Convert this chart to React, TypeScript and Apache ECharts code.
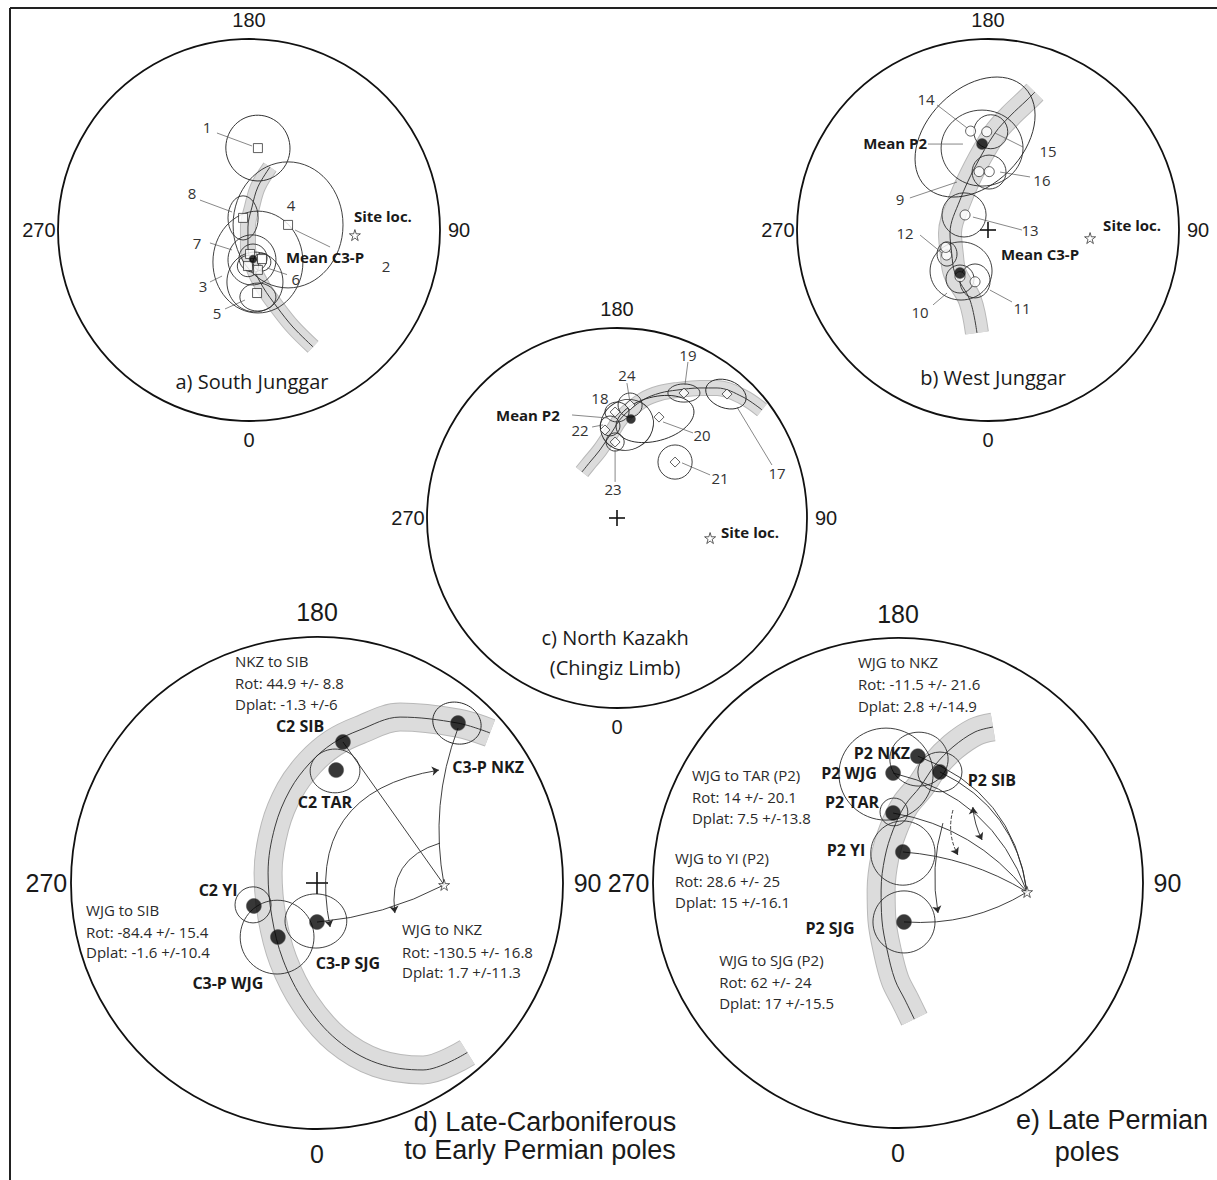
import React, { useEffect, useRef } from "react";
import * as echarts from "echarts";

// All positions are in stereonet-plane units (degrees from the centre; +x toward 90, +y toward 180).
type P = [number, number];
type T = [number, number, string];

const DIRECTION_TICKS = [0, 90, 180, 270];

// ---------------- a) South Junggar ----------------
const aSites: P[] = [[4.2, 38.6], [-2.8, 5.7], [18.4, 2.4], [0.5, -11.3], [6.1, -13.7], [-0.5, -17.0], [4.2, -18.8], [3.8, -29.7]];
const aEllipses = [
  [4.2, 38.6, 15.1, 15.5, 10], [-2.8, 5.7, 7.1, 10.4, 0], [18.4, 2.4, 25.9, 29.7, 0], [4.2, -15.1, 21.2, 24.0, 0],
  [2.8, -24.5, 13.2, 14.1, 0], [1.4, -14.1, 11.3, 11.8, 0], [1.9, -13.2, 6.6, 6.6, 0], [6.1, -15.1, 4.2, 4.2, 0],
  [4.2, -31.6, 8.5, 6.6, 0], [-0.5, -17.0, 5.0, 5.0, 0],
];
const aMeans: P[] = [[1.9, -13.7]];
const aStar: P[] = [[49.9, -2.4]];
const aBand: P[] = [[9.9, 29.7], [4.2, 20.3], [1.4, 10.8], [-0.5, 1.4], [-0.5, -8.0], [1.9, -17.4], [6.6, -26.9], [13.2, -36.3], [20.7, -45.7], [30.2, -55.1]];
const aNumbers: T[] = [[-19.8, 48.5, "1"], [-26.9, 17.4, "8"], [19.8, 11.8, "4"], [-24.5, -6.1, "7"], [22.1, -23.0, "6"], [-21.7, -26.4, "3"], [-15.1, -39.1, "5"], [64.6, -17.0, "2"]];
const aLeaders: P[][] = [
  [[-15.1, 45.7], [1.4, 39.6]], [[-23.1, 14.1], [-8.0, 8.5]], [[21.7, 0], [38.2, -8.0]], [[-18.4, -6.1], [-8.0, -9.4]],
  [[17.9, -21.0], [8.5, -17.9]], [[-18.4, -24.5], [-12.7, -21.7]], [[-11.3, -37.2], [-1.9, -33.0]],
];
const aBold: T[] = [[35.8, -12.7, "Mean C3-P"], [63.1, 6.6, "Site loc."]];
const aTitle: T[] = [[1.4, -71.6, "a) South Junggar"]];

// ---------------- b) West Junggar ----------------
const bSites: P[] = [[-8.2, 46.6], [-0.6, 46.3], [-4.2, 27.5], [0.6, 27.5], [-10.8, 7.1], [-19.5, -11.8], [-19.9, -8.2], [-13.2, -22.0], [-6.1, -24.4]];
const bEllipses = [
  [-6.1, 43.8, 33.0, 22.6, 45], [-2.8, 38.6, 19.3, 17.9, 0], [1.3, 46.3, 8.0, 8.0, 0], [0.5, 27.3, 8.0, 8.0, 0],
  [-11.3, 7.1, 10.4, 10.4, 0], [-19.3, -11.3, 4.7, 5.7, 0], [-12.7, -19.3, 14.6, 13.7, 0], [-6.1, -24.0, 7.1, 8.0, 0],
  [-13.2, -23.1, 6.6, 6.6, 0],
];
const bMeans: P[] = [[-2.8, 40.5], [-13.2, -20.3]];
const bStar: P[] = [[48.1, -3.8]];
const bBand: P[] = [[22.1, 65.0], [18.4, 61.3], [10.4, 53.7], [3.3, 45.7], [-6.1, 29.7], [-13.2, 14.1], [-17.9, -1.4], [-17.1, -11.0], [-15.6, -20.3], [-8.5, -33.0], [-5.2, -48.5]];
const bNumbers: T[] = [[-29.2, 61.7, "14"], [28.3, 37.2, "15"], [25.4, 23.6, "16"], [-41.5, 14.6, "9"], [19.8, 0, "13"], [-39.1, -1.4, "12"], [-32.0, -38.6, "10"], [16.0, -36.8, "11"]];
const bLeaders: P[][] = [
  [[-24.0, 58.9], [-9.9, 48.1]], [[16.5, 39.1], [3.3, 45.7]], [[19.8, 25.0], [5.7, 27.3]], [[-36.8, 15.1], [-14.6, 22.6]],
  [[16.0, 0], [-7.1, 6.1]], [[-32.0, -2.4], [-21.7, -10.8]], [[-25.9, -35.3], [-19.3, -29.7]], [[11.3, -33.9], [0.9, -28.3]],
  [[-28.3, 40.5], [-11.8, 40.5]],
];
const bBold: T[] = [[-43.8, 41.0, "Mean P2"], [24.5, -11.3, "Mean C3-P"], [67.9, 2.4, "Site loc."]];
const bTitle: T[] = [[2.4, -69.3, "b) West Junggar"]];

// ---------------- c) North Kazakh ----------------
const cSites: P[] = [[-0.9, 50.2], [19.9, 47.8], [-0.9, 36.0], [31.7, 59.2], [52.1, 58.7], [27.5, 26.5], [-5.7, 41.7], [6.2, 53.5]];
const cEllipses = [
  [18.0, 46.9, 18.9, 10.4, 15], [4.7, 44.1, 12.8, 11.8, 30], [0, 50.2, 5.7, 4.7, 0], [-0.9, 36.0, 4.3, 4.3, 0],
  [31.7, 59.2, 7.6, 4.3, 0], [51.6, 58.7, 9.9, 6.6, -20], [27.5, 26.5, 8.1, 8.1, 0], [6.2, 53.5, 5.7, 5.7, 0],
  [-3.3, 43.6, 4.7, 4.7, 0],
];
const cMeans: P[] = [[6.6, 46.9]];
const cStar: P[] = [[44.1, -9.5]];
const cBand: P[] = [[-16.6, 21.8], [-12.8, 26.5], [-8.1, 32.2], [-2.4, 40.7], [2.4, 47.8], [12.3, 55.9], [20.4, 59.2], [28.4, 60.6], [39.3, 61.6], [47.4, 61.6], [59.7, 57.3], [68.7, 51.2]];
const cNumbers: T[] = [[33.6, 77.2, "19"], [4.7, 67.7, "24"], [-8.1, 56.8, "18"], [-17.5, 41.7, "22"], [40.3, 39.3, "20"], [-1.9, 13.7, "23"], [48.8, 18.9, "21"], [75.8, 21.3, "17"]];
const cLeaders: P[][] = [
  [[33.6, 73.9], [32.2, 63.0]], [[4.7, 63.9], [6.2, 54.5]], [[-11.8, 43.1], [-6.6, 44.1]], [[36.0, 40.3], [21.8, 45.5]],
  [[-0.9, 17.1], [-0.9, 32.2]], [[44.1, 20.4], [30.8, 26.1]], [[73.4, 25.1], [56.8, 52.6]], [[-21.3, 48.8], [-4.7, 47.4]],
];
const cBold: T[] = [[-42.2, 48.8, "Mean P2"], [63.0, -6.6, "Site loc."]];
const cTitle: T[] = [[-0.9, -56.8, "c) North Kazakh"], [-0.9, -70.6, "(Chingiz Limb)"]];

// ---------------- d) Late-Carboniferous to Early Permian poles ----------------
const dPoles: P[] = [[51.6, 58.5], [9.5, 51.6], [7.0, 41.3], [0, -14.3], [-14.3, -19.8], [-23.1, -8.4]];
const dEllipses = [[51.2, 58.5, 9.0, 7.5, -20], [6.6, 41.0, 9.1, 8.0, 0], [-0.4, -13.9, 11.3, 9.9, 0], [-14.6, -19.8, 13.5, 13.5, 0], [-23.4, -8.0, 6.6, 6.6, 0]];
const dStar: P[] = [[46.5, -0.7]];
const dBand: P[] = [[63.3, 54.9], [51.6, 58.5], [30.4, 60.7], [15.7, 56.0], [5.9, 51.2], [-2.6, 43.9], [-9.9, 34.0], [-15.4, 20.5], [-17.9, 3.7], [-16.5, -12.4], [-12.4, -28.2], [-4.4, -43.9], [7.3, -57.4], [22.0, -65.9], [38.8, -68.4], [55.0, -62.0]];
const dBold: T[] = [[-6.2, 57.4, "C2 SIB"], [2.9, 29.6, "C2 TAR"], [62.6, 42.4, "C3-P NKZ"], [-36.2, -2.6, "C2 YI"], [11.3, -29.3, "C3-P SJG"], [-32.6, -36.6, "C3-P WJG"]];
const dBlocks: T[] = [
  [-30.0, 81.2, "NKZ to SIB"], [-30.0, 73.2, "Rot: 44.9 +/- 8.8"], [-30.0, 65.5, "Dplat: -1.3 +/-6"],
  [-84.5, -9.9, "WJG to SIB"], [-84.5, -17.9, "Rot: -84.4 +/- 15.4"], [-84.5, -25.2, "Dplat: -1.6 +/-10.4"],
  [31.1, -16.8, "WJG to NKZ"], [31.1, -25.2, "Rot: -130.5 +/- 16.8"], [31.1, -32.6, "Dplat: 1.7 +/-11.3"],
];
// great-circle paths from poles to the site (start, end)
const dLines: P[][] = [[[9.5, 51.6], [46.5, -0.7]], [[51.6, 56.7], [46.5, -0.7]], [[0, -14.3], [46.5, -0.7]]];
const dArcsBoth: P[][] = [[[44.6, 41.3], [4.8, -16.1]]];
const dArcsEnd: P[][] = [[[45.0, 14.6], [28.5, -11.0]]];
const dTitle: T[] = [[83.4, -87.5, "d) Late-Carboniferous"], [81.6, -97.7, "to Early Permian poles"]];

// ---------------- e) Late Permian poles ----------------
const ePoles: P[] = [[7.3, 46.6], [-1.8, 40.4], [15.4, 40.8], [-1.8, 25.7], [1.8, 11.4], [2.2, -14.3]];
const eEllipses = [[-4.4, 40.0, 17.3, 16.9, 0], [7.7, 45.5, 10.7, 9.9, 0], [15.4, 40.8, 8.1, 7.3, 0], [-1.5, 26.1, 5.1, 5.1, 0], [1.8, 11.0, 11.8, 11.8, 0], [2.2, -14.3, 11.4, 11.4, 0]];
const eStar: P[] = [[47.4, -3.3]];
const eBand: P[] = [[34.9, 57.3], [28.3, 55.5], [20.2, 50.0], [13.6, 43.3], [8.1, 35.3], [2.6, 28.6], [-1.8, 19.5], [-4.8, 9.5], [-6.2, -2.6], [-5.9, -13.6], [-4.0, -24.6], [-1.1, -35.6], [2.6, -43.0], [6.0, -50.0]];
const eBold: T[] = [[-5.9, 47.7, "P2 NKZ"], [-18.0, 40.4, "P2 WJG"], [34.5, 37.8, "P2 SIB"], [-16.9, 29.8, "P2 TAR"], [-19.1, 12.1, "P2 YI"], [-25.0, -16.5, "P2 SJG"]];
const eBlocks: T[] = [
  [-14.7, 81.2, "WJG to NKZ"], [-14.7, 73.1, "Rot: -11.5 +/- 21.6"], [-14.7, 65.0, "Dplat: 2.8 +/-14.9"],
  [-75.7, 39.7, "WJG to TAR (P2)"], [-75.7, 31.6, "Rot: 14 +/- 20.1"], [-75.7, 23.9, "Dplat: 7.5 +/-13.8"],
  [-81.9, 9.2, "WJG to YI (P2)"], [-81.9, 0.7, "Rot: 28.6 +/- 25"], [-81.9, -7.0, "Dplat: 15 +/-16.1"],
  [-65.7, -28.3, "WJG to SJG (P2)"], [-65.7, -36.4, "Rot: 62 +/- 24"], [-65.7, -44.1, "Dplat: 17 +/-15.5"],
];
const eLines: P[][] = [
  [[7.3, 46.6], [47.4, -3.3]], [[15.4, 40.8], [47.4, -3.3]], [[-1.8, 40.4], [47.4, -3.3]],
  [[-1.8, 25.7], [47.4, -3.3]], [[1.8, 11.4], [47.4, -3.3]], [[2.2, -14.3], [47.4, -3.3]],
];
const eArcsBoth: P[][] = [[[27.5, 27.9], [30.9, 15.8]]];
const eArcsDashed: P[][] = [[[20.2, 26.8], [22.0, 10.3]]];
const eArcsEnd: P[][] = [[[16.5, 22.0], [14.7, -11.0]]];
const eTitle: T[] = [[78.6, -87.0, "e) Late Permian"], [69.4, -98.8, "poles"]];

// ---------------- layout / styles ----------------
const SANS = '"Open Sans", "Noto Sans", sans-serif';
const ARIAL = '"Liberation Sans", Arial, sans-serif';
const STAR = "path://M50,0 L61,35 L98,35 L68,57 L79,91 L50,70 L21,91 L32,57 L2,35 L39,35 Z";
const INK = "#1a1a1a";
const LINE = "#2a2a2a";

interface Panel {
  left: number; top: number; size: number;
  band: P[]; bandWidth: number;
  ellipses: number[][];
  sites?: P[]; siteSymbol?: string; siteSize?: number;
  means: P[]; meanSize: number;
  star: P[];
  cross: number;
  leaders?: P[][];
  lines?: P[][]; lineCurves?: number[];
  arcsEnd?: P[][]; arcsEndCurves?: number[];
  arcsBoth?: P[][]; arcsBothCurves?: number[];
  arcsDashed?: P[][]; arcsDashedCurves?: number[];
  numbers?: T[];
  bold: T[]; boldSize: number;
  blocks?: T[];
  titles: T[]; titleFamily: string; titleSize: number;
  tickSize: number;
}

const PANELS: Panel[] = [
  { left: 58, top: 39, size: 382, band: aBand, bandWidth: 14, ellipses: aEllipses, sites: aSites, siteSymbol: "rect", siteSize: 9,
    means: aMeans, meanSize: 8, star: aStar, cross: 0, leaders: aLeaders, numbers: aNumbers, bold: aBold, boldSize: 15,
    titles: aTitle, titleFamily: SANS, titleSize: 20, tickSize: 20 },
  { left: 797, top: 39, size: 382, band: bBand, bandWidth: 22, ellipses: bEllipses, sites: bSites, siteSymbol: "circle", siteSize: 10,
    means: bMeans, meanSize: 11, star: bStar, cross: 8, leaders: bLeaders, numbers: bNumbers, bold: bBold, boldSize: 15,
    titles: bTitle, titleFamily: SANS, titleSize: 20, tickSize: 20 },
  { left: 427, top: 328, size: 380, band: cBand, bandWidth: 14, ellipses: cEllipses, sites: cSites, siteSymbol: "diamond", siteSize: 10,
    means: cMeans, meanSize: 9, star: cStar, cross: 8, leaders: cLeaders, numbers: cNumbers, bold: cBold, boldSize: 15,
    titles: cTitle, titleFamily: SANS, titleSize: 20, tickSize: 20 },
  { left: 71, top: 637, size: 492, band: dBand, bandWidth: 27, ellipses: dEllipses, means: dPoles, meanSize: 15, star: dStar,
    cross: 11, lines: dLines, lineCurves: [0, -0.14, -0.1],
    arcsEnd: dArcsEnd, arcsEndCurves: [-0.43], arcsBoth: dArcsBoth, arcsBothCurves: [-0.52],
    bold: dBold, boldSize: 16, blocks: dBlocks, titles: dTitle, titleFamily: ARIAL, titleSize: 27, tickSize: 25 },
  { left: 653, top: 638, size: 490, band: eBand, bandWidth: 27, ellipses: eEllipses, means: ePoles, meanSize: 15, star: eStar,
    cross: 0, lines: eLines, lineCurves: [0.3, 0.27, 0.27, 0.19, 0.12, -0.16],
    arcsEnd: eArcsEnd, arcsEndCurves: [-0.12], arcsBoth: eArcsBoth, arcsBothCurves: [-0.1],
    arcsDashed: eArcsDashed, arcsDashedCurves: [-0.2],
    bold: eBold, boldSize: 16, blocks: eBlocks, titles: eTitle, titleFamily: ARIAL, titleSize: 27, tickSize: 25 },
];

function textSeries(ax: any, items: T[], style: any, z = 8) {
  return {
    type: "custom", ...ax, data: items.map((d) => [d[0], d[1]]), encode: { x: 0, y: 1 }, silent: true, z,
    renderItem: (params: any, api: any) => {
      const c = api.coord([api.value(0), api.value(1)]);
      return { type: "text", x: c[0], y: c[1], style: { text: items[params.dataIndex][2], fill: INK, ...style } };
    },
  };
}

function polySeries(ax: any, arr: P[][], color: string, width: number) {
  return {
    type: "lines", coordinateSystem: "cartesian2d", ...ax, polyline: true, silent: true, z: 4,
    data: arr.map((c) => ({ coords: c })),
    lineStyle: { color, width, opacity: 1 },
  };
}

function curveSeries(ax: any, arr: P[][], curves: number[] | undefined, symbol: string[], dashed = false) {
  return {
    type: "lines", coordinateSystem: "cartesian2d", ...ax, silent: true, z: 4,
    symbol, symbolSize: 7,
    data: arr.map((c, k) => ({ coords: c, lineStyle: { curveness: curves ? curves[k] : 0 } })),
    lineStyle: { color: LINE, width: 0.9, opacity: 1, type: dashed ? "dashed" : "solid" },
  };
}

function buildSeries(p: Panel, i: number) {
  const ax = { xAxisIndex: i, yAxisIndex: i };
  const s: any[] = [];
  // confidence band (swath) along the path
  const bandBase = { type: "line", ...ax, data: p.band, smooth: 0.35, symbol: "none", showSymbol: false, silent: true, clip: false };
  s.push({ ...bandBase, z: 1, lineStyle: { width: p.bandWidth + 2, color: "#b9b9b9", cap: "butt" } });
  s.push({ ...bandBase, z: 1.1, lineStyle: { width: p.bandWidth, color: "#dcdcdc", cap: "butt" } });
  s.push({ ...bandBase, z: 1.2, lineStyle: { width: 1, color: "#3c3c3c", cap: "butt" } });
  // primitive circle
  s.push({
    type: "custom", ...ax, data: [[0, 0, 90]], encode: { x: 0, y: 1 }, silent: true, z: 3,
    renderItem: (_: any, api: any) => {
      const c = api.coord([api.value(0), api.value(1)]);
      const r = api.size([api.value(2), 0])[0];
      return { type: "circle", shape: { cx: c[0], cy: c[1], r }, style: { fill: "none", stroke: "#111", lineWidth: 1.8 } };
    },
  });
  // confidence ellipses (last value: tilt of the long axis, counter-clockwise, degrees)
  s.push({
    type: "custom", ...ax, data: p.ellipses, encode: { x: 0, y: 1 }, silent: true, z: 3,
    renderItem: (_: any, api: any) => {
      const c = api.coord([api.value(0), api.value(1)]);
      const sz = api.size([api.value(2), api.value(3)]);
      return {
        type: "ellipse", x: c[0], y: c[1], rotation: (api.value(4) * Math.PI) / 180,
        shape: { cx: 0, cy: 0, rx: sz[0], ry: sz[1] }, style: { fill: "none", stroke: LINE, lineWidth: 0.9 },
      };
    },
  });
  if (p.cross) {
    s.push({
      type: "custom", ...ax, data: [[0, 0]], encode: { x: 0, y: 1 }, silent: true, z: 4,
      renderItem: (_: any, api: any) => {
        const c = api.coord([api.value(0), api.value(1)]);
        const k = p.cross;
        const st = { stroke: "#111", lineWidth: 1.6 };
        return {
          type: "group", children: [
            { type: "line", shape: { x1: c[0] - k, y1: c[1], x2: c[0] + k, y2: c[1] }, style: st },
            { type: "line", shape: { x1: c[0], y1: c[1] - k, x2: c[0], y2: c[1] + k }, style: st },
          ],
        };
      },
    });
  }
  if (p.leaders) s.push(polySeries(ax, p.leaders, "#555", 0.7));
  if (p.lines) s.push(curveSeries(ax, p.lines, p.lineCurves, ["none", "none"]));
  if (p.arcsEnd) s.push(curveSeries(ax, p.arcsEnd, p.arcsEndCurves, ["none", "arrow"]));
  if (p.arcsBoth) s.push(curveSeries(ax, p.arcsBoth, p.arcsBothCurves, ["arrow", "arrow"]));
  if (p.arcsDashed) s.push(curveSeries(ax, p.arcsDashed, p.arcsDashedCurves, ["none", "arrow"], true));
  if (p.sites) {
    s.push({ type: "scatter", ...ax, data: p.sites, symbol: p.siteSymbol, symbolSize: p.siteSize, silent: true, z: 5,
      itemStyle: { color: "#fff", borderColor: "#222", borderWidth: 0.9 } });
  }
  s.push({ type: "scatter", ...ax, data: p.means, symbol: "circle", symbolSize: p.meanSize, silent: true, z: 6,
    itemStyle: { color: "#050505", borderColor: "#555", borderWidth: 0.6 } });
  s.push({ type: "scatter", ...ax, data: p.star, symbol: STAR, symbolSize: 11, silent: true, z: 6,
    itemStyle: { color: "#fff", borderColor: "#222", borderWidth: 0.9 } });
  // texts
  const ticks: T[] = DIRECTION_TICKS.map((v) => {
    const a = (v * Math.PI) / 180;
    return [99 * Math.sin(a), -99 * Math.cos(a), String(v)] as T;
  });
  s.push(textSeries(ax, ticks, { fontFamily: ARIAL, fontSize: p.tickSize, align: "center", verticalAlign: "middle" }));
  if (p.numbers) s.push(textSeries(ax, p.numbers, { fontFamily: SANS, fontSize: 15, fill: "#333", align: "center", verticalAlign: "middle" }));
  s.push(textSeries(ax, p.bold, { fontFamily: SANS, fontSize: p.boldSize, fontWeight: "bold", align: "center", verticalAlign: "middle" }, 9));
  if (p.blocks) s.push(textSeries(ax, p.blocks, { fontFamily: SANS, fontSize: 15, fill: "#2a2a2a", align: "left", verticalAlign: "middle" }));
  s.push(textSeries(ax, p.titles, { fontFamily: p.titleFamily, fontSize: p.titleSize, align: "center", verticalAlign: "middle" }));
  return s;
}

export default function App() {
  const ref = useRef<HTMLDivElement>(null);
  useEffect(() => {
    if (!ref.current) return;
    const chart = echarts.init(ref.current, undefined, { renderer: "svg" });
    const option: any = {
      animation: false,
      backgroundColor: "#ffffff",
      grid: PANELS.map((p) => ({ left: p.left, top: p.top, width: p.size, height: p.size })),
      xAxis: PANELS.map((_, i) => ({ type: "value", gridIndex: i, min: -90, max: 90, show: false })),
      yAxis: PANELS.map((_, i) => ({ type: "value", gridIndex: i, min: -90, max: 90, show: false })),
      series: PANELS.flatMap((p, i) => buildSeries(p, i)),
      graphic: [
        { type: "line", shape: { x1: 10, y1: 8, x2: 1217, y2: 8 }, style: { stroke: "#222", lineWidth: 2 }, silent: true },
        { type: "line", shape: { x1: 10, y1: 8, x2: 10, y2: 1180 }, style: { stroke: "#222", lineWidth: 2 }, silent: true },
      ],
    };
    chart.setOption(option);
    return () => chart.dispose();
  }, []);
  return <div ref={ref} style={{ position: "absolute", left: 0, top: 0, width: 1217, height: 1180 }} />;
}
